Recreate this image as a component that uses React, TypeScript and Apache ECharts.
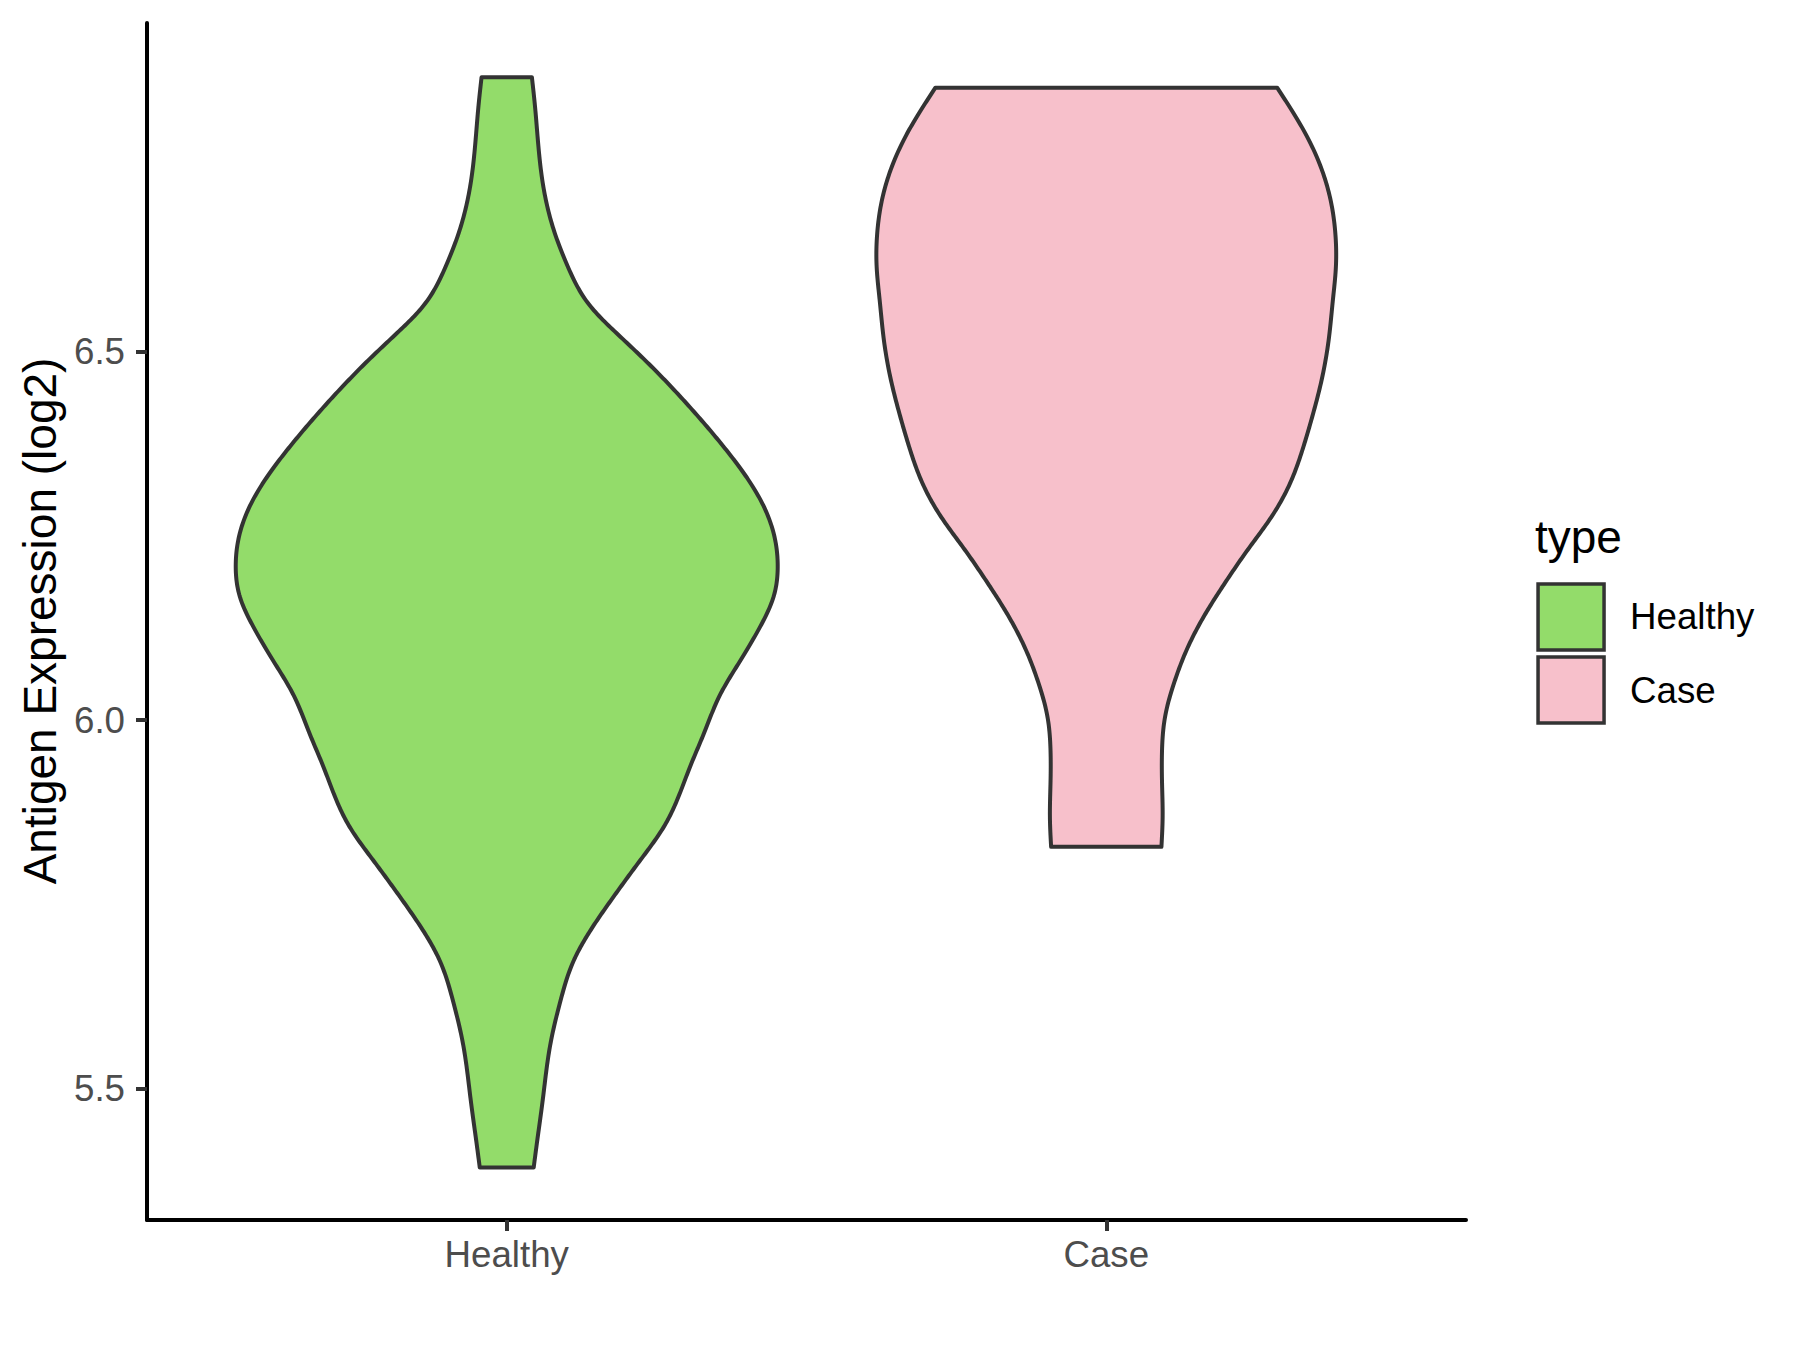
import React, { useEffect, useRef } from "react";
import * as echarts from "echarts";

const categories = ["Healthy", "Case"];
const fillColors = ["#93DC6A", "#F7C0CB"];
const yTicks = [5.5, 6.0, 6.5];

// Healthy violin: expression value (top to bottom) and half-width (category units)
const healthyValues = [6.872, 6.834, 6.796, 6.729, 6.661, 6.615, 6.561, 6.525, 6.488, 6.448, 6.398, 6.353, 6.299, 6.254, 6.208, 6.167, 6.127, 6.081, 6.036, 5.982, 5.937, 5.891, 5.855, 5.81, 5.76, 5.715, 5.674, 5.62, 5.561, 5.484, 5.43, 5.393];
const healthyHalfWidths = [0.042, 0.047, 0.051, 0.06, 0.08, 0.102, 0.14, 0.183, 0.231, 0.279, 0.334, 0.379, 0.423, 0.445, 0.452, 0.445, 0.423, 0.39, 0.357, 0.329, 0.306, 0.284, 0.262, 0.223, 0.178, 0.14, 0.112, 0.09, 0.073, 0.06, 0.051, 0.045];

// Case violin
const caseValues = [6.858, 6.796, 6.75, 6.706, 6.661, 6.615, 6.57, 6.516, 6.457, 6.407, 6.366, 6.322, 6.275, 6.231, 6.186, 6.145, 6.095, 6.05, 6.004, 5.959, 5.915, 5.868, 5.828];
const caseHalfWidths = [0.285, 0.332, 0.358, 0.374, 0.382, 0.383, 0.378, 0.371, 0.358, 0.342, 0.327, 0.307, 0.275, 0.236, 0.198, 0.166, 0.134, 0.113, 0.098, 0.093, 0.093, 0.094, 0.092];

const FONT = "'Liberation Sans', Arial, sans-serif";

// Natural cubic spline of x(y) through pixel points (y increasing), sampled for smooth drawing
function smoothSide(pts: number[][], step = 2): number[][] {
  const n = pts.length;
  const t = pts.map((p) => p[1]);
  const a = pts.map((p) => p[0]);
  const h: number[] = [];
  for (let i = 0; i < n - 1; i++) h[i] = t[i + 1] - t[i];
  const alpha: number[] = new Array(n).fill(0);
  for (let i = 1; i < n - 1; i++) alpha[i] = (3 / h[i]) * (a[i + 1] - a[i]) - (3 / h[i - 1]) * (a[i] - a[i - 1]);
  const l: number[] = new Array(n).fill(1);
  const mu: number[] = new Array(n).fill(0);
  const z: number[] = new Array(n).fill(0);
  for (let i = 1; i < n - 1; i++) {
    l[i] = 2 * (t[i + 1] - t[i - 1]) - h[i - 1] * mu[i - 1];
    mu[i] = h[i] / l[i];
    z[i] = (alpha[i] - h[i - 1] * z[i - 1]) / l[i];
  }
  const b: number[] = new Array(n).fill(0);
  const c: number[] = new Array(n).fill(0);
  const d: number[] = new Array(n).fill(0);
  for (let j = n - 2; j >= 0; j--) {
    c[j] = z[j] - mu[j] * c[j + 1];
    b[j] = (a[j + 1] - a[j]) / h[j] - (h[j] * (c[j + 1] + 2 * c[j])) / 3;
    d[j] = (c[j + 1] - c[j]) / (3 * h[j]);
  }
  const out: number[][] = [];
  for (let j = 0; j < n - 1; j++) {
    const steps = Math.max(1, Math.ceil(h[j] / step));
    for (let s = 0; s < steps; s++) {
      const dt = (h[j] * s) / steps;
      out.push([a[j] + b[j] * dt + c[j] * dt * dt + d[j] * dt * dt * dt, t[j] + dt]);
    }
  }
  out.push(pts[n - 1]);
  return out;
}

export default function App() {
  const ref = useRef<HTMLDivElement>(null);
  useEffect(() => {
    document.body.style.margin = "0";
    const chart = echarts.init(ref.current!, null, { renderer: "svg" });
    const groups = [
      { vals: healthyValues, hw: healthyHalfWidths },
      { vals: caseValues, hw: caseHalfWidths },
    ];
    const series = categories.map((name, i) => ({
      type: "custom",
      name,
      itemStyle: { color: fillColors[i] },
      data: [[i + 1, groups[i].vals[0]]],
      renderItem: (params: any, api: any) => {
        const c = i + 1;
        const g = groups[i];
        const left = g.vals.map((v, j) => api.coord([c - g.hw[j], v]));
        const right = g.vals.map((v, j) => api.coord([c + g.hw[j], v]));
        const pts = [...smoothSide(left), ...smoothSide(right).reverse()];
        return {
          type: "polygon",
          shape: { points: pts },
          style: { fill: fillColors[i], stroke: "#333333", lineWidth: 4, lineJoin: "round" },
        };
      },
    }));
    chart.setOption({
      animation: false,
      backgroundColor: "#ffffff",
      grid: { left: 147, top: 23, width: 1319, height: 1197, containLabel: false },
      xAxis: {
        type: "value",
        min: 0.4,
        max: 2.6,
        splitLine: { show: false },
        axisLine: { show: true, onZero: false, lineStyle: { color: "#000000", width: 4 } },
        axisTick: { show: true, customValues: [1, 2], length: 11, lineStyle: { color: "#333333", width: 4 } },
        axisLabel: {
          customValues: [1, 2],
          formatter: (v: number) => categories[Math.round(v) - 1],
          fontSize: 36.7,
          color: "#4D4D4D",
          fontFamily: FONT,
          margin: 16,
        },
      },
      yAxis: {
        type: "value",
        min: 5.3216,
        max: 6.9457,
        splitLine: { show: false },
        axisLine: { show: true, lineStyle: { color: "#000000", width: 4 } },
        axisTick: { show: true, customValues: yTicks, length: 11, lineStyle: { color: "#333333", width: 4 } },
        axisLabel: {
          customValues: yTicks,
          formatter: (v: number) => v.toFixed(1),
          fontSize: 36.7,
          color: "#4D4D4D",
          fontFamily: FONT,
          margin: 22,
        },
      },
      legend: {
        orient: "vertical",
        left: 1536.3,
        top: 582.2,
        padding: 0,
        itemWidth: 66,
        itemHeight: 66,
        itemGap: 3.6,
        icon: "rect",
        selectedMode: false,
        data: categories.map((n, i) => ({
          name: n,
          itemStyle: { color: fillColors[i], borderColor: "#333333", borderWidth: 3.5 },
        })),
        textStyle: { fontSize: 36.7, color: "#000000", fontFamily: FONT, padding: [0, 0, 0, 21] },
      },
      graphic: [
        {
          type: "text",
          x: 40,
          y: 621,
          rotation: Math.PI / 2,
          style: {
            text: "Antigen Expression (log2)",
            fontSize: 46,
            fontFamily: FONT,
            fill: "#000000",
            textAlign: "center",
            textVerticalAlign: "middle",
          },
        },
        {
          type: "text",
          x: 1535,
          y: 537,
          style: {
            text: "type",
            fontSize: 46,
            fontFamily: FONT,
            fill: "#000000",
            textAlign: "left",
            textVerticalAlign: "middle",
          },
        },
      ],
      series,
    });
    return () => chart.dispose();
  }, []);
  return <div ref={ref} style={{ width: 1800, height: 1350 }} />;
}
